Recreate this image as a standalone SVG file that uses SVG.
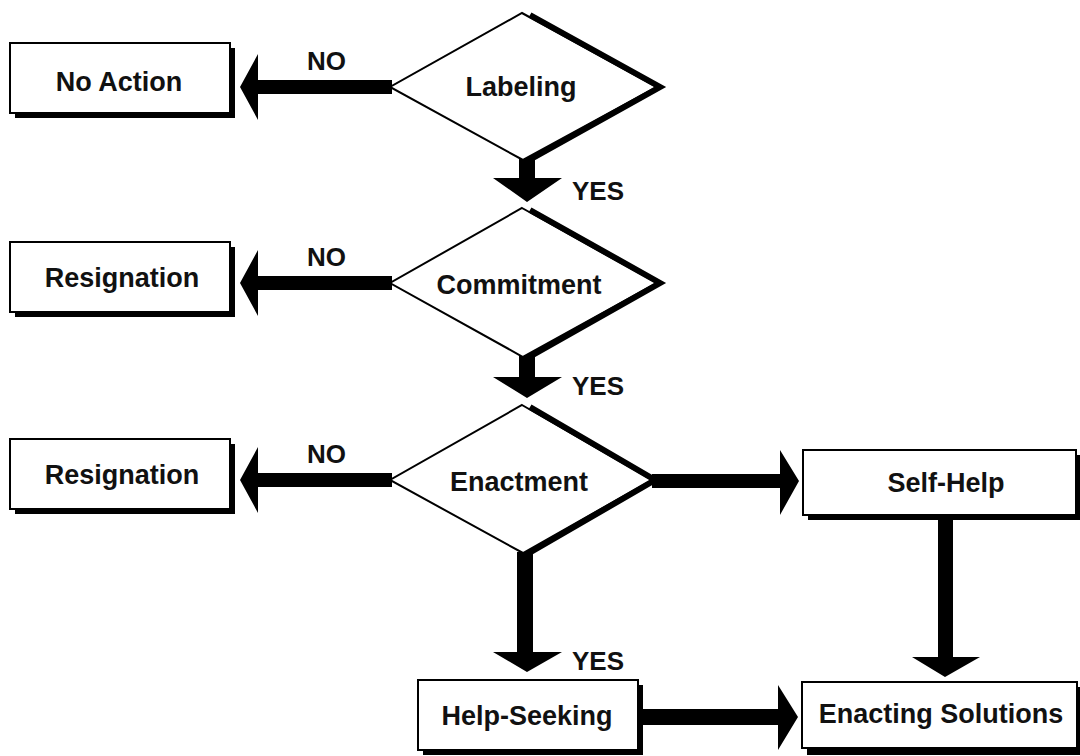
<svg xmlns="http://www.w3.org/2000/svg" width="1080" height="756" viewBox="0 0 1080 756">
<style>
.box{fill:#fff;stroke:#000;stroke-width:2}
.shadow{fill:#000}
.dia{fill:#fff;stroke:#000;stroke-width:2;stroke-linejoin:miter}
.edge{fill:none;stroke:#000;stroke-width:6;stroke-linejoin:miter;stroke-miterlimit:10}
.lbl{font-family:"Liberation Sans",Arial,sans-serif;font-weight:bold;font-size:27px;fill:#111;text-anchor:middle}
.cl{font-family:"Liberation Sans",Arial,sans-serif;font-weight:bold;font-size:26px;fill:#111}
.arr{fill:#000}
</style>
<rect width="1080" height="756" fill="#fff"/>
<g id="connectors">
<path class="arr" d="M392,80 L258,80 L258,54 L240,87 L258,120 L258,94 L392,94 Z"/>
<path class="arr" d="M392,276 L258,276 L258,250 L240,283 L258,316 L258,290 L392,290 Z"/>
<path class="arr" d="M392,473 L258,473 L258,447 L240,480 L258,513 L258,487 L392,487 Z"/>
<path class="arr" d="M519,158 L519,178 L493,178 L527,202 L562,178 L535,178 L535,158 Z"/>
<path class="arr" d="M519,355 L519,377 L493,377 L527,398 L562,377 L535,377 L535,355 Z"/>
<path class="arr" d="M517,552 L517,652 L493,652 L527,672 L562,652 L533,652 L533,552 Z"/>
<path class="arr" d="M652,474 L780,474 L780,450 L799,481 L780,515 L780,488 L652,488 Z"/>
<path class="arr" d="M938,518 L938,657 L912,657 L945,677 L980,657 L953,657 L953,518 Z"/>
<path class="arr" d="M640,709 L778,709 L778,685 L798,717 L778,750 L778,725 L640,725 Z"/>
<text class="cl" x="307" y="70">NO</text>
<text class="cl" x="307" y="266">NO</text>
<text class="cl" x="307" y="463">NO</text>
<text class="cl" x="572" y="200">YES</text>
<text class="cl" x="572" y="395">YES</text>
<text class="cl" x="572" y="670">YES</text>
</g>
<g id="no-action">
<rect class="shadow" x="15" y="48" width="220" height="70"/>
<rect class="box" x="10" y="43" width="220" height="70"/>
<text class="lbl" x="119" y="91">No Action</text>
</g>
<g id="labeling">
<polygon class="dia" points="522,13 657,87 523,160 390,87"/>
<polyline class="edge" points="530,15 660,87 524,163"/>
<text class="lbl" x="521" y="96">Labeling</text>
</g>
<g id="resignation-1">
<rect class="shadow" x="15" y="247" width="220" height="70"/>
<rect class="box" x="10" y="242" width="220" height="70"/>
<text class="lbl" x="122" y="287">Resignation</text>
</g>
<g id="commitment">
<polygon class="dia" points="522,208 657,283 523,357 390,283"/>
<polyline class="edge" points="530,210 660,283 524,360"/>
<text class="lbl" x="519" y="294">Commitment</text>
</g>
<g id="resignation-2">
<rect class="shadow" x="15" y="444" width="220" height="70"/>
<rect class="box" x="10" y="439" width="220" height="70"/>
<text class="lbl" x="122" y="484">Resignation</text>
</g>
<g id="enactment">
<polygon class="dia" points="522,405 652,480 523,553 390,480"/>
<polyline class="edge" points="530,407 655,480 524,556"/>
<text class="lbl" x="519" y="491">Enactment</text>
</g>
<g id="self-help">
<rect class="shadow" x="808" y="455" width="272" height="65"/>
<rect class="box" x="803" y="450" width="273" height="65"/>
<text class="lbl" x="946" y="492">Self-Help</text>
</g>
<g id="help-seeking">
<rect class="shadow" x="423" y="685" width="220" height="70"/>
<rect class="box" x="418" y="680" width="220" height="70"/>
<text class="lbl" x="527" y="725">Help-Seeking</text>
</g>
<g id="enacting-solutions">
<rect class="shadow" x="807" y="687" width="273" height="68"/>
<rect class="box" x="802" y="682" width="275" height="66"/>
<text class="lbl" x="941" y="723">Enacting Solutions</text>
</g>
</svg>
